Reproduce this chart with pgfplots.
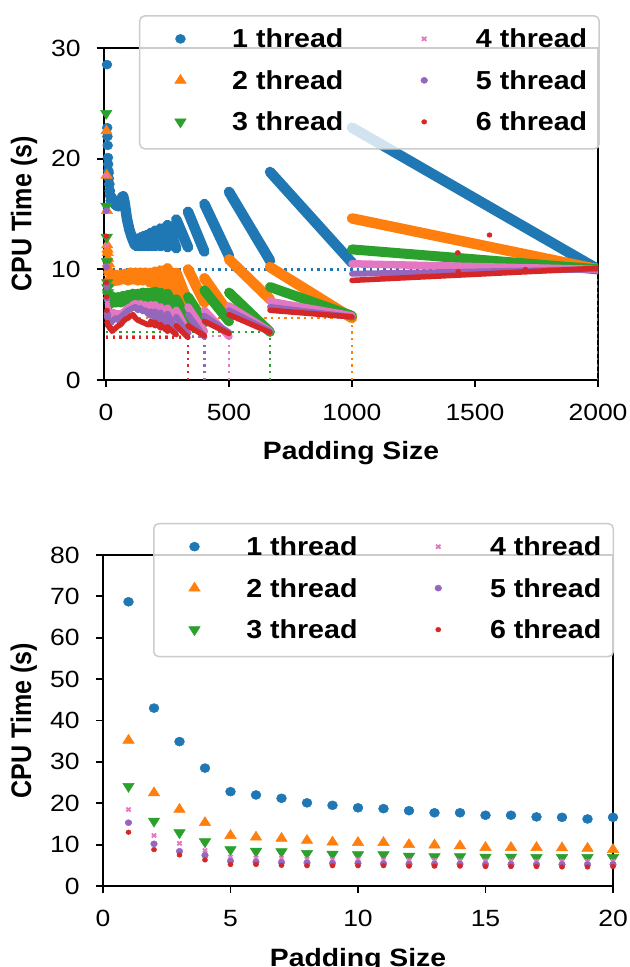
\documentclass[border=0pt]{standalone}
\usepackage{graphicx}
\usepackage{pgfplots}
\usepackage{pgfplotstable}
\pgfplotsset{compat=1.18}
\usepackage{fontspec}
\setmainfont{Liberation Sans}

\definecolor{cA}{HTML}{1F77B4}
\definecolor{cB}{HTML}{FF7F0E}
\definecolor{cC}{HTML}{2CA02C}
\definecolor{cD}{HTML}{E377C2}
\definecolor{cE}{HTML}{9467BD}
\definecolor{cF}{HTML}{D62728}

\newlength\px \setlength\px{0.75pt}
\newcommand\hs[1]{\scalebox{1.13}[1]{#1}}
\newcommand\hl[1]{\scalebox{1.10}[1]{#1}}
\newcommand\tickfont{\fontsize{17.6pt}{20pt}\selectfont}
\newcommand\labfont{\fontsize{18.8pt}{22pt}\selectfont\bfseries}
\newcommand\legfont{\fontsize{19.5pt}{23pt}\selectfont\bfseries}

% padding 1..20 (CPU time in s) for 1..6 threads
\pgfplotstableread{
p a b c d e f
1 68.7 35.2 24.1 18.5 15.3 13.0
2 43.0 22.5 15.7 12.2 10.2 8.8
3 34.9 18.5 12.9 10.3 8.4 7.5
4 28.5 15.3 10.7 8.6 7.4 6.3
5 22.8 12.2 8.8 7.0 6.0 5.2
6 22.0 11.8 8.4 6.8 5.8 5.2
7 21.2 11.5 8.3 6.7 5.7 5.0
8 20.1 11.0 7.9 6.5 5.6 4.9
9 19.5 10.6 7.7 6.4 5.5 4.9
10 18.9 10.5 7.6 6.4 5.5 4.9
11 18.7 10.5 7.6 6.3 5.4 4.9
12 18.2 10.0 7.2 6.2 5.3 4.8
13 17.7 9.9 7.1 6.2 5.3 4.8
14 17.7 9.7 7.1 6.1 5.3 4.8
15 17.1 9.3 7.0 6.1 5.2 4.7
16 17.1 9.3 7.0 6.1 5.2 4.7
17 16.7 9.3 6.9 6.0 5.2 4.7
18 16.6 9.2 6.9 6.0 5.2 4.6
19 16.2 9.1 6.9 6.0 5.2 4.6
20 16.6 8.8 6.9 6.0 5.2 4.7
}\smalltab

\pgfplotsset{
  mA/.style={mark=*, mark size=4.5\px, color=cA, mark options={draw=cA, fill=cA, xscale=1.1, fill opacity=1, draw opacity=1, line width=0.5\px}},
  mB/.style={mark=triangle*, mark size=6\px, color=cB, mark options={draw=cB, fill=cB, xscale=1.1, fill opacity=1, draw opacity=1, line width=0.5\px}},
  mC/.style={mark=triangle*, mark size=6\px, color=cC, mark options={rotate=180, draw=cC, fill=cC, xscale=1.1, fill opacity=1, draw opacity=1, line width=0.5\px}},
  mD/.style={mark=x, mark size=2.8\px, color=cD, mark options={draw=cD, line width=1.8\px, xscale=1.1, draw opacity=1}},
  mE/.style={mark=*, mark size=3\px, color=cE, mark options={draw=cE, fill=cE, xscale=1.1, fill opacity=1, draw opacity=1, line width=0.5\px}},
  mF/.style={mark=*, mark size=2.3\px, color=cF, mark options={draw=cF, fill=cF, xscale=1.1, fill opacity=1, draw opacity=1, line width=0.5\px}},
  dot/.style={line width=2.4\px, dash pattern=on 2.4\px off 4.2\px, forget plot},
  band/.style={line width=#1, line cap=round, line join=round, forget plot},
  myax/.style={
    scale only axis,
    axis line style={line width=1.8\px},
    every tick/.style={line width=1.8\px, black},
    major tick length=7\px,
    tick align=outside,
    tick pos=left,
    minor tick num=0,
    ticklabel style={font=\tickfont},
    xticklabel style={anchor=north, inner sep=0pt, yshift=-17\px},
    yticklabel style={anchor=east, inner sep=0pt, xshift=-16\px},
    label style={font=\labfont},
    unbounded coords=jump,
    legend columns=2,
    legend cell align=left,
    legend image code/.code={%
      \path (0\px,0\px) (79\px,0\px);
      \draw[mark repeat=2,mark phase=2,##1] plot coordinates {(8\px,2\px) (28\px,2\px) (48\px,2\px)};},
    legend style={font=\legfont, draw=black!20, line width=1.5\px,
      rounded corners=5\px, fill=white, fill opacity=0.8, text opacity=1,
      inner xsep=12\px, inner ysep=12\px, row sep=15.5\px,
      nodes={inner sep=0pt, text height=20\px, text depth=6\px},
      /tikz/every even column/.append style={column sep=52\px}},
  },
}

\begin{document}
\begin{tikzpicture}
% ---------------- top axis ----------------
\begin{axis}[myax,
  at={(104\px,587\px)}, anchor=south west,
  width=494\px, height=332\px,
  xmin=-8, xmax=2000, ymin=0, ymax=30,
  xtick={0,500,1000,1500,2000}, xticklabels={\hs{0},\hs{500},\hs{1000},\hs{1500},\hs{2000}},
  ytick={0,10,20,30}, yticklabels={\hs{0},\hs{10},\hs{20},\hs{30}},
  xlabel={\hs{Padding Size}}, ylabel={\scalebox{1}[1.13]{CPU Time (s)}},
  xlabel style={at={(axis description cs:0.5,-0.238)}, anchor=base},
  ylabel style={at={(axis description cs:-0.147,0.5)}, anchor=base, rotate=0},
  legend style={at={(1.004,1.099)}, anchor=north east},
]
\addlegendimage{only marks, mA}\addlegendentry{\hl{1 thread}}
\addlegendimage{only marks, mD}\addlegendentry{\hl{4 thread}}
\addlegendimage{only marks, mB}\addlegendentry{\hl{2 thread}}
\addlegendimage{only marks, mE}\addlegendentry{\hl{5 thread}}
\addlegendimage{only marks, mC}\addlegendentry{\hl{3 thread}}
\addlegendimage{only marks, mF}\addlegendentry{\hl{6 thread}}

% 1 thread
\addplot[cA, band=10.5\px] coordinates {
(20,16.6)(25,16.3)(30,16.1)(40,15.8)(50,15.7)(58,15.8)(64,16.5)(70,16.6)(76,16.0)(85,14.6)(95,13.6)(105,12.9)(112,12.5)(117.6,12.2) (117.7,12.6)(125,12.1)
(125.1,nan)
(125.1,12.7)(133.3,12.1) (133.3,nan)
(133.4,12.8)(142.8,12.1) (142.8,nan)
(142.9,12.9)(153.8,12.1) (153.8,nan)
(153.9,13.0)(166.6,12.1) (166.6,nan)
(166.7,13.1)(181.8,12.1) (181.8,nan)
(181.9,13.3)(200,12.1) (200,nan)
(200.1,13.5)(222.2,12.1) (222.2,nan)
(222.3,13.7)(250,12.0) (250,nan)
(250.1,14.0)(285.7,11.9) (285.7,nan)
(285.8,14.5)(333.3,12.0) (333.3,nan)
(333.4,15.2)(400,11.6) (400,nan)
(400.1,15.9)(500,11.2) (500,nan)
(500.1,17.0)(666.7,10.8) (666.7,nan)
(666.8,18.8)(1000,10.6) (1000,nan)
(1000.1,22.8)(2000,10.0)
};
\addplot[only marks, mA, forget plot] table[x=p,y=a]{\smalltab};
\addplot[cA, dot] coordinates {(0,10)(2000,10)};
\addplot[cA, dot] coordinates {(2000,0)(2000,10)};

% 2 threads
\addplot[cB, band=10.5\px] coordinates {
(20,8.8)(30,9.2)(40,9.5)(50,9.0)(60,9.5)(70,9.1)(80,9.6)(90,9.0)(100,9.7)(110,9.1)(120,9.7)(130,9.0)(140,9.7)(150,9.0)(160,9.7)(170,9.0)(181.8,8.8) (181.8,nan)
(181.9,9.7)(200,8.5) (200,nan)
(200.1,9.8)(222.2,8.2) (222.2,nan)
(222.3,9.9)(250,7.8) (250,nan)
(250.1,10.1)(285.7,7.4) (285.7,nan)
(285.8,9.7)(333.3,7.0) (333.3,nan)
(333.4,10.0)(400,7.0) (400,nan)
(400.1,9.2)(500,6.0) (500,nan)
(500.1,10.9)(666.7,7.3) (666.7,nan)
(666.8,10.2)(1000,5.6) (1000,nan)
(1000.1,14.6)(2000,10.0)
};
\addplot[only marks, mB, forget plot] table[x=p,y=b]{\smalltab};
\addplot[cB, dot] coordinates {(0,5.6)(1000,5.6)};
\addplot[cB, dot] coordinates {(1000,0)(1000,5.6)};

% 3 threads
\addplot[cC, band=10\px] coordinates {
(20,6.9)(30,7.5)(40,7.0)(50,7.5)(60,7.0)(70,7.6)(80,7.1)(90,7.7)(100,7.2)(110,7.8)(120,7.3)(130,7.8)(140,7.3)(150,7.9)(160,7.4)(170,7.9)(181.8,7.0) (181.8,nan)
(181.9,7.9)(200,6.8) (200,nan)
(200.1,8.0)(222.2,6.5) (222.2,nan)
(222.3,7.9)(250,6.2) (250,nan)
(250.1,7.8)(285.7,5.7) (285.7,nan)
(285.8,7.3)(333.3,5.2) (333.3,nan)
(333.4,7.5)(400,5.2) (400,nan)
(400.1,8.1)(500,5.3) (500,nan)
(500.1,7.9)(666.7,4.35) (666.7,nan)
(666.8,8.4)(1000,5.8) (1000,nan)
(1000.1,11.8)(2000,10.0)
};
\addplot[only marks, mC, forget plot] table[x=p,y=c]{\smalltab};
\addplot[cC, dot] coordinates {(0,4.35)(667,4.35)};
\addplot[cC, dot] coordinates {(667,0)(667,4.35)};

% 4 threads
\addplot[cD, band=7.5\px] coordinates {
(20,6.0)(30,6.1)(40,5.9)(50,6.0)(60,5.8)(70,6.1)(80,6.3)(90,6.5)(100,6.6)(110,6.8)(120,6.9)(130,6.7)(140,6.9)(150,6.6)(160,6.8)(170,6.5)(181.8,6.4) (181.8,nan)
(181.9,6.8)(200,6.0) (200,nan)
(200.1,6.8)(222.2,5.8) (222.2,nan)
(222.3,6.6)(250,5.2) (250,nan)
(250.1,6.5)(285.7,4.9) (285.7,nan)
(285.8,6.3)(333.3,4.3) (333.3,nan)
(333.4,6.6)(400,4.4) (400,nan)
(400.1,6.3)(500,3.95) (500,nan)
(500.1,6.7)(666.7,4.4) (666.7,nan)
(666.8,7.1)(1000,5.8) (1000,nan)
(1000.1,10.5)(2000,10.0)
};
\addplot[only marks, mD, forget plot] table[x=p,y=d]{\smalltab};
\addplot[cD, dot] coordinates {(0,3.95)(500,3.95)};
\addplot[cD, dot] coordinates {(500,0)(500,3.95)};

% 5 threads
\addplot[cE, band=6\px] coordinates {
(20,5.2)(30,5.4)(40,5.6)(50,5.4)(60,5.7)(70,5.9)(80,6.1)(90,6.3)(100,6.4)(110,6.5)(120,6.6)(130,6.3)(140,6.5)(150,6.2)(160,6.3)(170,6.0)(181.8,5.8) (181.8,nan)
(181.9,6.2)(200,5.6) (200,nan)
(200.1,6.2)(222.2,5.3) (222.2,nan)
(222.3,6.1)(250,5.0) (250,nan)
(250.1,6.0)(285.7,4.5) (285.7,nan)
(285.8,5.7)(333.3,4.2) (333.3,nan)
(333.4,5.9)(400,3.9) (400,nan)
(400.1,5.8)(500,4.3) (500,nan)
(500.1,6.3)(666.7,4.4) (666.7,nan)
(666.8,6.6)(1000,5.7) (1000,nan)
(1000.1,9.6)(2000,10.0)
};
\addplot[only marks, mE, forget plot] table[x=p,y=e]{\smalltab};
\addplot[cE, dot] coordinates {(0,3.9)(400,3.9)};
\addplot[cE, dot] coordinates {(400,0)(400,3.9)};

% 6 threads
\addplot[cF, band=5.5\px] coordinates {
(20,4.7)(25,4.4)(30,4.5)(40,4.7)(50,4.9)(60,5.0)(70,5.3)(80,5.5)(90,5.6)(100,5.8)(110,5.9)(120,5.6)(130,5.4)(140,5.3)(150,5.2)(160,5.1)(170,5.0)(181.8,5.0) (181.8,nan)
(181.9,5.3)(200,4.9) (200,nan)
(200.1,5.2)(222.2,4.7) (222.2,nan)
(222.3,5.0)(250,4.4) (250,nan)
(250.1,4.8)(285.7,4.1) (285.7,nan)
(285.8,4.9)(333.3,3.85) (333.3,nan)
(333.4,4.9)(400,4.0) (400,nan)
(400.1,5.3)(500,4.2) (500,nan)
(500.1,5.9)(666.7,4.3) (666.7,nan)
(666.8,6.3)(1000,5.7) (1000,nan)
(1000.1,9.0)(2000,10.1)
};
\addplot[only marks, mF, forget plot] table[x=p,y=f]{\smalltab};
\addplot[only marks, mF, forget plot] coordinates {(519,5.7)(1430,11.5)(1559,13.1)(1432,9.8)(1705,10.0)};
\addplot[cF, dot] coordinates {(0,3.85)(334,3.85)};
\addplot[cF, dot] coordinates {(334,0)(334,3.85)};
\end{axis}

% ---------------- bottom axis ----------------
\begin{axis}[myax,
  at={(103\px,81\px)}, anchor=south west,
  width=510\px, height=331\px,
  xmin=0, xmax=20, ymin=0, ymax=80,
  xtick={0,5,10,15,20}, xticklabels={\hs{0},\hs{5},\hs{10},\hs{15},\hs{20}},
  ytick={0,10,...,80}, yticklabels={\hs{0},\hs{10},\hs{20},\hs{30},\hs{40},\hs{50},\hs{60},\hs{70},\hs{80}},
  xlabel={\hs{Padding Size}}, ylabel={\scalebox{1}[1.13]{CPU Time (s)}},
  xlabel style={at={(axis description cs:0.5,-0.242)}, anchor=base},
  ylabel style={at={(axis description cs:-0.141,0.5)}, anchor=base, rotate=0},
  legend style={at={(1.002,1.097)}, anchor=north east},
]
\addlegendimage{only marks, mA}\addlegendentry{\hl{1 thread}}
\addlegendimage{only marks, mD}\addlegendentry{\hl{4 thread}}
\addlegendimage{only marks, mB}\addlegendentry{\hl{2 thread}}
\addlegendimage{only marks, mE}\addlegendentry{\hl{5 thread}}
\addlegendimage{only marks, mC}\addlegendentry{\hl{3 thread}}
\addlegendimage{only marks, mF}\addlegendentry{\hl{6 thread}}
\addplot[only marks, mA, forget plot] table[x=p,y=a]{\smalltab};
\addplot[only marks, mB, forget plot] table[x=p,y=b]{\smalltab};
\addplot[only marks, mC, forget plot] table[x=p,y=c]{\smalltab};
\addplot[only marks, mD, forget plot] table[x=p,y=d]{\smalltab};
\addplot[only marks, mE, forget plot] table[x=p,y=e]{\smalltab};
\addplot[only marks, mF, forget plot] table[x=p,y=f]{\smalltab};
\end{axis}
\pgfresetboundingbox
\path (0,0) rectangle (630\px,967\px);
\end{tikzpicture}
\end{document}
